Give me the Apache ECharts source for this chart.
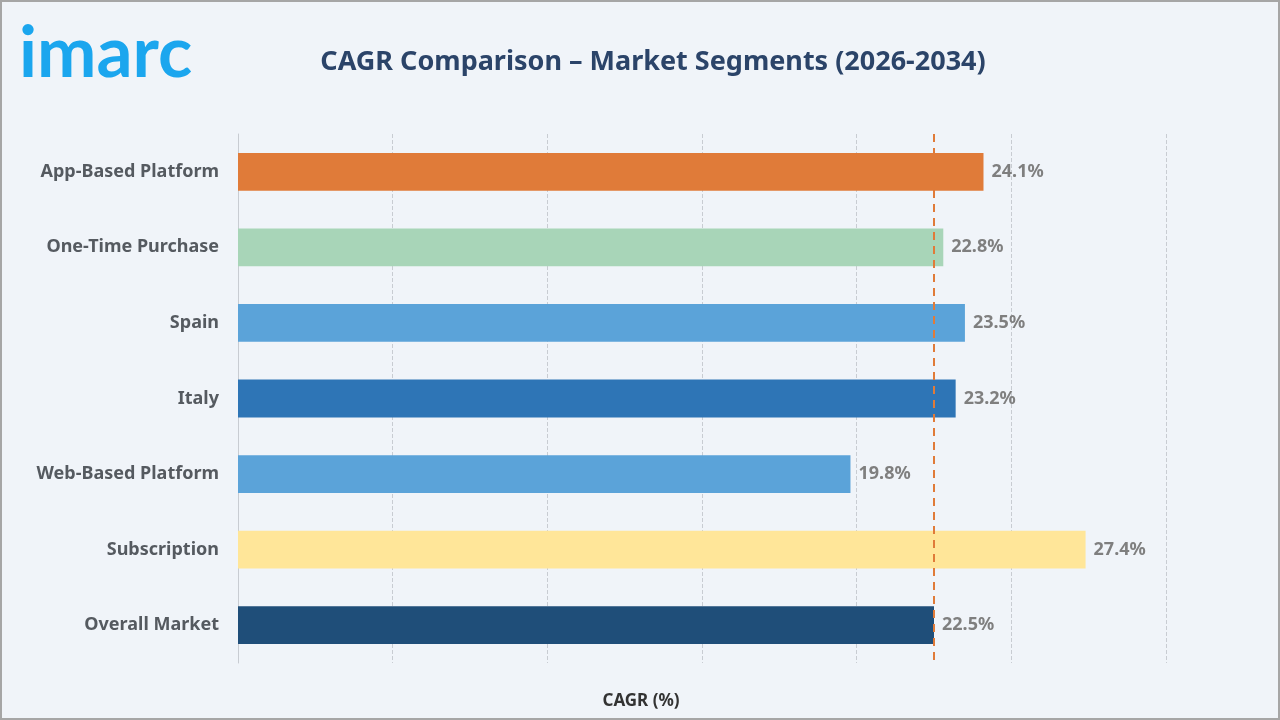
<!DOCTYPE html>
<html><head><meta charset="utf-8">
<script src="https://cdn.jsdelivr.net/npm/echarts@6/dist/echarts.min.js"></script>
<style>html,body{margin:0;padding:0;background:#f0f4f9;}#c{width:1280px;height:720px;}</style>
</head><body><div id="c"></div>
<script>
const categories = ["App-Based Platform","One-Time Purchase","Spain","Italy","Web-Based Platform","Subscription","Overall Market"];
const values = [24.1, 22.8, 23.5, 23.2, 19.8, 27.4, 22.5];
const colors = ["#e07b39","#a8d5b8","#5ba3d9","#2e75b6","#5ba3d9","#ffe699","#1f4e79"];
const referenceValue = 22.5;
const FONT = "'Noto Sans', 'Open Sans', sans-serif";

const chart = echarts.init(document.getElementById('c'));
chart.setOption({
  backgroundColor: '#f0f4f9',
  animation: false,
  title: {
    text: 'CAGR Comparison – Market Segments (2026-2034)',
    left: 648, top: 44, textAlign: 'center',
    textStyle: { fontFamily: FONT, fontWeight: 'bold', fontSize: 27, color: '#2b4469' }
  },
  graphic: [
    { type: 'rect', shape: { x: 1, y: 1, width: 1278, height: 718 }, style: { fill: 'none', stroke: '#a6a6a6', lineWidth: 2 }, silent: true },
    { type: 'text', left: 19, top: 19, style: { text: 'imarc', fontFamily: "Lato, 'Noto Sans'", fontWeight: 'bold', fontSize: 71, fill: '#1ba6ee' } }
  ],
  grid: { left: 238, right: 114, top: 134, bottom: 57, containLabel: false },
  xAxis: {
    type: 'value', min: 0, max: 30, interval: 5,
    name: 'CAGR (%)', nameLocation: 'middle', nameGap: 30,
    nameTextStyle: { fontFamily: FONT, fontWeight: 'bold', fontSize: 17, color: '#333', padding: [0, 122, 0, 0] },
    axisLabel: { show: false }, axisTick: { show: false }, axisLine: { show: false },
    splitLine: { show: true, lineStyle: { color: '#c8ccd2', type: 'dashed', width: 1 } }
  },
  yAxis: {
    type: 'category', data: categories, inverse: true,
    axisTick: { show: false },
    axisLine: { show: true, lineStyle: { color: '#c8ccd2', width: 1 } },
    axisLabel: { margin: 19, fontFamily: FONT, fontWeight: 'bold', fontSize: 18, color: '#555a60' }
  },
  series: [{
    type: 'bar', barWidth: '50%',
    data: values.map((v, i) => ({ value: v, itemStyle: { color: colors[i] } })),
    label: { show: true, position: 'right', distance: 8, formatter: p => p.value.toFixed(1) + '%',
      fontFamily: FONT, fontWeight: 'bold', fontSize: 18, color: '#7f7f7f' },
    markLine: {
      silent: true, symbol: 'none', label: { show: false },
      lineStyle: { color: '#e07b39', type: [8, 6], width: 2 },
      data: [{ xAxis: referenceValue }]
    }
  }]
});
</script></body></html>
